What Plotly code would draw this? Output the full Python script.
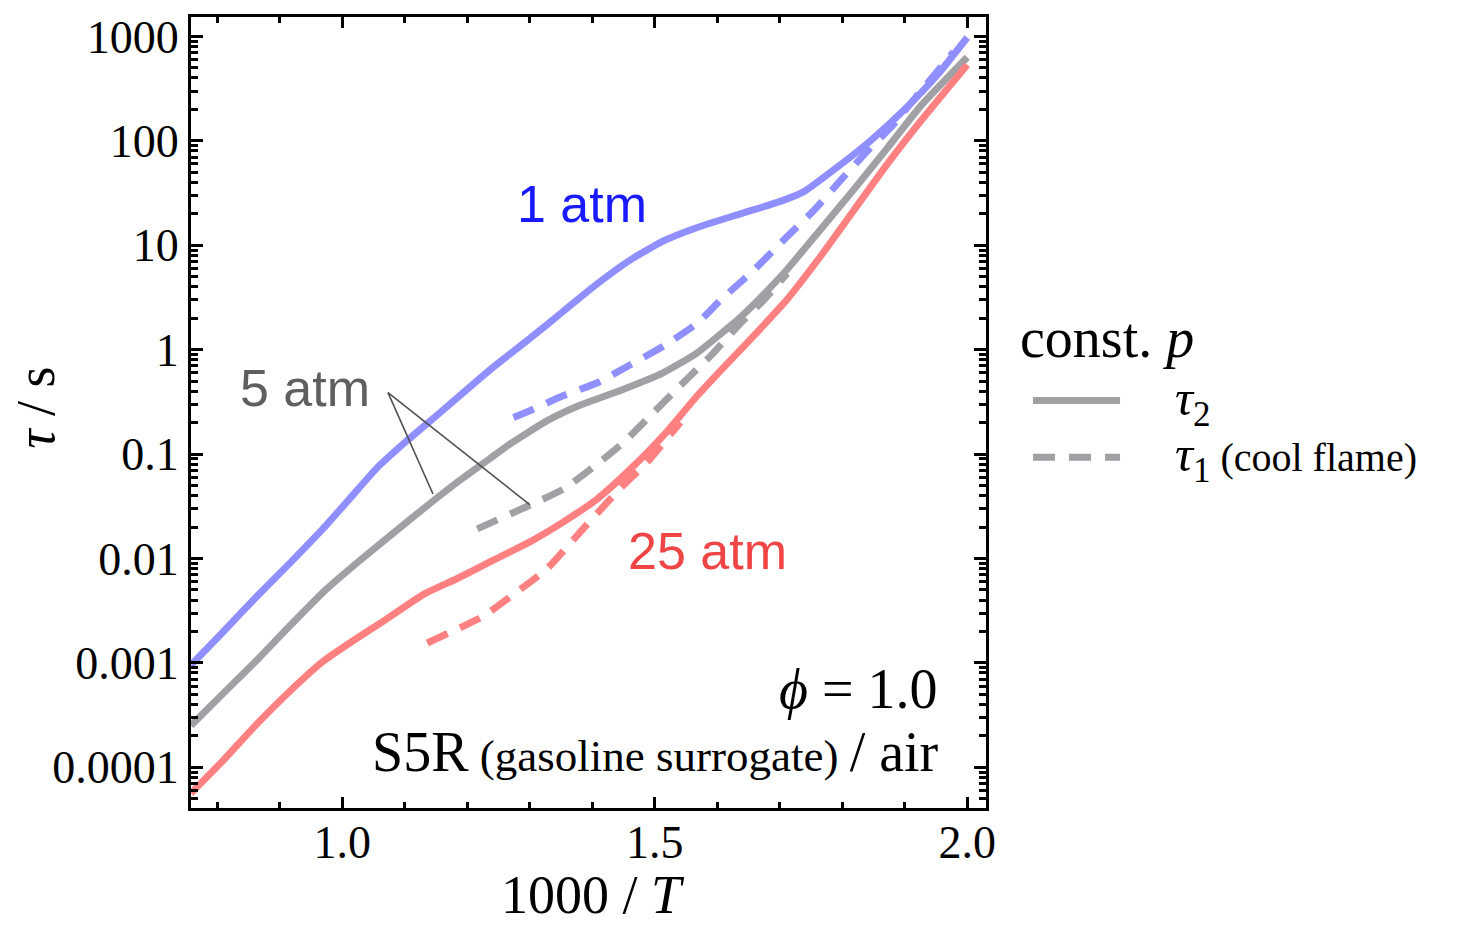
import plotly.graph_objects as go

# ---------------- data ----------------
# 1 atm, tau2 (solid blue)
x_1atm_t2 = [0.758, 0.810, 0.864, 0.917, 0.970, 1.013, 1.056, 1.104, 1.157, 1.237, 1.301, 1.354,
             1.408, 1.461, 1.514, 1.568, 1.637, 1.701, 1.738, 1.797, 1.845, 1.898, 1.952, 2.000]
y_1atm_t2 = [0.000955, 0.00200, 0.00437, 0.00912, 0.0195, 0.0380, 0.0741, 0.135, 0.251, 0.646, 1.29, 2.34,
             4.27, 7.24, 11.0, 14.8, 20.0, 26.3, 32.4, 58.9, 100, 195, 427, 977]
# 1 atm, tau1 (dashed blue)
x_1atm_t1 = [1.274, 1.301, 1.354, 1.408, 1.461, 1.514, 1.568, 1.605, 1.658, 1.712, 1.754, 1.802,
             1.840, 1.882, 1.925, 1.978]
y_1atm_t1 = [0.224, 0.261, 0.363, 0.482, 0.716, 1.08, 1.79, 2.97, 5.74, 12.1, 21.4, 45.0,
             79.6, 144, 296, 711]

# 5 atm, tau2 (solid gray)
x_5atm_t2 = [0.758, 0.810, 0.864, 0.917, 0.970, 1.024, 1.077, 1.141, 1.184, 1.237, 1.264, 1.328,
             1.381, 1.445, 1.514, 1.568, 1.637, 1.658, 1.712, 1.765, 1.818, 1.872, 1.925, 2.000]
y_5atm_t2 = [0.000251, 0.000513, 0.00107, 0.00229, 0.00479, 0.00912, 0.0166, 0.0339, 0.0537, 0.0912, 0.120, 0.209,
             0.295, 0.407, 0.603, 0.933, 2.04, 2.69, 5.89, 14.1, 33.9, 85.1, 214, 631]
# 5 atm, tau1 (dashed gray)
x_5atm_t1 = [1.216, 1.301, 1.354, 1.408, 1.450, 1.498, 1.541, 1.594, 1.637, 1.674, 1.712]
y_5atm_t1 = [0.0192, 0.0326, 0.0462, 0.0800, 0.129, 0.250, 0.452, 0.931, 1.79, 2.97, 5.37]

# 25 atm, tau2 (solid red)
x_25atm_t2 = [0.758, 0.810, 0.864, 0.917, 0.970, 1.024, 1.066, 1.130, 1.184, 1.237, 1.301, 1.354,
              1.408, 1.461, 1.514, 1.568, 1.605, 1.658, 1.712, 1.765, 1.818, 1.872, 1.925, 2.000]
y_25atm_t2 = [0.0000565, 0.000117, 0.000262, 0.000541, 0.00104, 0.00173, 0.00251, 0.00453, 0.00643, 0.00933, 0.0145, 0.0224,
              0.0372, 0.0717, 0.151, 0.362, 0.627, 1.35, 3.04, 7.80, 21.4, 59.8, 153, 536]
# 25 atm, tau1 (dashed red)
x_25atm_t1 = [1.136, 1.194, 1.226, 1.274, 1.328, 1.381, 1.413, 1.450, 1.488, 1.541]
y_25atm_t1 = [0.00155, 0.00225, 0.00280, 0.00453, 0.00800, 0.0180, 0.0292, 0.0505, 0.0836, 0.201]

y_tickvals = [0.0001, 0.001, 0.01, 0.1, 1, 10, 100, 1000]
y_ticktext = ["0.0001", "0.001", "0.01", "0.1", "1", "10", "100", "1000"]
x_tickvals = [1.0, 1.5, 2.0]
x_ticktext = ["1.0", "1.5", "2.0"]

legend_labels = ["<i>τ</i><sub>2</sub>",
                 "<i>τ</i><sub>1</sub><span style='font-size:40px'> (cool flame)</span>"]

# ---------------- styling ----------------
BLUE = "#8f8fff"
GRAY = "#a0a0a5"
RED = "#ff8080"
DASH = "22px,14px"
LW = 7
SERIF = "Liberation Serif"
SANS = "Liberation Sans"

fig = go.Figure()

series = [
    (x_1atm_t2, y_1atm_t2, BLUE, "solid"),
    (x_5atm_t2, y_5atm_t2, GRAY, "solid"),
    (x_25atm_t2, y_25atm_t2, RED, "solid"),
    (x_1atm_t1, y_1atm_t1, BLUE, DASH),
    (x_5atm_t1, y_5atm_t1, GRAY, DASH),
    (x_25atm_t1, y_25atm_t1, RED, DASH),
]
for xs, ys, col, dash in series:
    fig.add_trace(go.Scatter(
        x=xs, y=ys, mode="lines", showlegend=False,
        line=dict(color=col, width=LW, dash=dash, shape="spline", smoothing=0.5),
    ))

# minor tick positions on log axis
minor_vals = [m * 10 ** e for e in range(-5, 4) for m in range(2, 10)]

axis_common = dict(
    showline=True, linewidth=3, linecolor="black", mirror="ticks",
    ticks="inside", tickcolor="black", showgrid=False, zeroline=False,
    tickfont=dict(family=SERIF, size=46, color="black"),
)

fig.update_xaxes(
    range=[0.758, 2.030], tickmode="array", tickvals=x_tickvals, ticktext=x_ticktext,
    ticklen=11, tickwidth=3, ticklabelstandoff=-8,
    minor=dict(ticks="inside", dtick=0.1, tick0=0, ticklen=6, tickwidth=2.5, tickcolor="black",
               showgrid=False),
    **axis_common,
)
fig.update_yaxes(
    type="log", range=[-4.39, 3.186], tickmode="array", tickvals=y_tickvals, ticktext=y_ticktext,
    ticklen=12, tickwidth=3, ticklabelstandoff=0,
    minor=dict(ticks="inside", tickmode="array", tickvals=minor_vals, ticklen=7, tickwidth=2.5,
               tickcolor="black", showgrid=False),
    **axis_common,
)

ann = []
# axis titles
ann.append(dict(text="1000 / <i>T</i>", xref="paper", yref="paper", x=0.5057, y=-0.1095,
                xanchor="center", yanchor="middle", showarrow=False,
                font=dict(family=SERIF, size=54, color="black")))
ann.append(dict(text="<i>τ</i> / s", xref="paper", yref="paper", x=-0.195, y=0.506,
                xanchor="center", yanchor="middle", textangle=-90, showarrow=False,
                font=dict(family=SERIF, size=54, color="black")))
# pressure labels
ann.append(dict(text="1 atm", xref="paper", yref="paper", x=0.492, y=0.764,
                xanchor="center", yanchor="middle", showarrow=False,
                font=dict(family=SANS, size=52, color="#1a1aff")))
ann.append(dict(text="5 atm", xref="paper", yref="paper", x=0.1434, y=0.531,
                xanchor="center", yanchor="middle", showarrow=False,
                font=dict(family=SANS, size=52, color="#5f5f5f")))
ann.append(dict(text="25 atm", xref="paper", yref="paper", x=0.650, y=0.325,
                xanchor="center", yanchor="middle", showarrow=False,
                font=dict(family=SANS, size=52, color="#f04545")))
# condition labels
ann.append(dict(text="<i>ϕ</i> = 1.0", xref="paper", yref="paper", x=0.942, y=0.151,
                xanchor="right", yanchor="middle", showarrow=False,
                font=dict(family=SERIF, size=56, color="black")))
ann.append(dict(text="S5R<span style='font-size:45px'> (gasoline surrogate) </span>/ air",
                xref="paper", yref="paper", x=0.943, y=0.0704,
                xanchor="right", yanchor="middle", showarrow=False,
                font=dict(family=SERIF, size=56, color="black")))

# legend (heading, sample lines and labels)
ann.append(dict(text="const. <i>p</i>", xref="paper", yref="paper", x=1.0403, y=0.594,
                xanchor="left", yanchor="middle", showarrow=False,
                font=dict(family=SERIF, size=56, color="black")))
legend_y_line = [0.5151, 0.4435]
legend_y_text = [0.5130, 0.4430]
legend_dash = ["solid", DASH]
shapes = []
for lab, yl, yt, dsh in zip(legend_labels, legend_y_line, legend_y_text, legend_dash):
    shapes.append(dict(type="line", xref="paper", yref="paper", x0=1.0591, x1=1.1686, y0=yl, y1=yl,
                       line=dict(color=GRAY, width=LW, dash=dsh)))
    ann.append(dict(text=lab, xref="paper", yref="paper", x=1.2350, y=yt,
                    xanchor="left", yanchor="middle", showarrow=False,
                    font=dict(family=SERIF, size=50, color="black")))

# pointer lines for "5 atm" (paper coordinates of the plot area)
shapes += [
    dict(type="line", xref="paper", yref="paper", x0=0.2478, y0=0.5251, x1=0.3044, y1=0.3970,
         line=dict(color="#505050", width=1.6)),
    dict(type="line", xref="paper", yref="paper", x0=0.2478, y0=0.5251, x1=0.4264, y1=0.3832,
         line=dict(color="#505050", width=1.6)),
]

fig.update_layout(
    width=1468, height=929,
    margin=dict(l=191, r=482, t=12, b=121),
    paper_bgcolor="white", plot_bgcolor="white",
    annotations=ann, shapes=shapes, showlegend=False,
)

fig.write_html("out.html")
